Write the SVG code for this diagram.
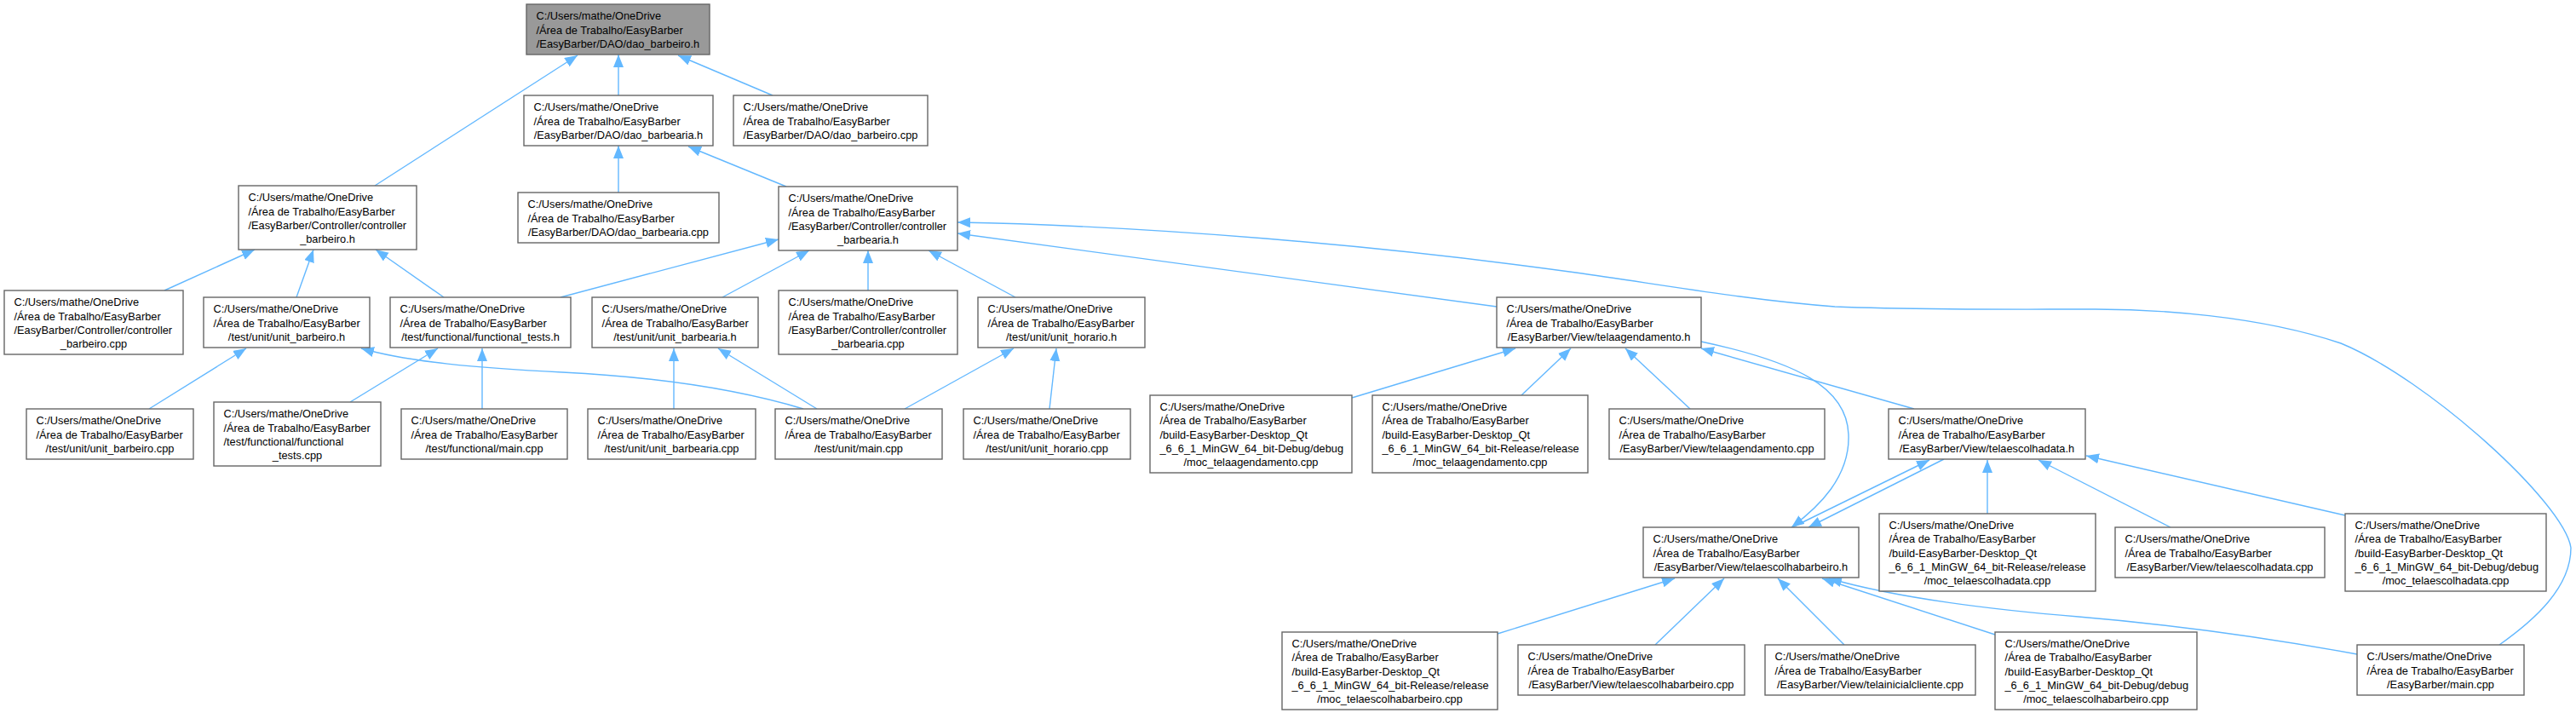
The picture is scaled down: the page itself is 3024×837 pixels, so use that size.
<svg xmlns="http://www.w3.org/2000/svg" width="3024" height="837" viewBox="0 0 3024 837">
<style>
.n rect{fill:#ffffff;stroke:#666666;stroke-width:1.4}
.m rect{fill:#999999;stroke:#666666;stroke-width:1.4}
text{font-family:"Liberation Sans",Arial,sans-serif;font-size:12.8px;fill:#000000}
.c{text-anchor:middle}
.e path{fill:none;stroke:#63b8ff;stroke-width:1.4;marker-end:url(#ah)}
</style>
<defs>
<marker id="ah" markerUnits="userSpaceOnUse" markerWidth="16" markerHeight="13" viewBox="0 0 16 13" refX="15" refY="6" orient="auto">
<path d="M0,0 L15,6 L0,12 z" fill="#63b8ff"/>
</marker>
</defs>
<rect x="0" y="0" width="3024" height="837" fill="#ffffff"/>
<g class="e" id="edges">
<path d="M726,112 L726,64"/>
<path d="M907,112 L796,65"/>
<path d="M440,218 L678,65"/>
<path d="M726,226 L726,171"/>
<path d="M923,219 L808,172"/>
<path d="M193,341 L299,293"/>
<path d="M348,349 L368,293"/>
<path d="M521,349 L441,293"/>
<path d="M658,349 L914,281"/>
<path d="M848,349 L950,294"/>
<path d="M1019,341 L1019,294"/>
<path d="M1192,349 L1090,294"/>
<path d="M1757,360 L1124,274"/>
<path d="M2934,757 C2975,728 3018,690 3018,643 C3010,590 2850,445 2748,403 C2650,370 2530,363 2460,363 C2350,363 2250,364 2154,360 C2050,352 1950,334 1850,320 C1620,288 1350,265 1124,261"/>
<path d="M1587,467 L1779,409"/>
<path d="M1786,464 L1844,409"/>
<path d="M1984,480 L1908,409"/>
<path d="M2247,480 L1997,409"/>
<path d="M1997,401 C2110,425 2168,455 2170,510 C2172,560 2135,595 2103,619"/>
<path d="M2104,619 L2265,540"/>
<path d="M2282,539 L2123,619"/>
<path d="M2333,603 L2333,540"/>
<path d="M2548,619 L2393,540"/>
<path d="M2753,605 L2449,535"/>
<path d="M1758,744 L1966,679"/>
<path d="M1943,757 L2024,679"/>
<path d="M2165,757 L2087,679"/>
<path d="M2342,745 L2139,679"/>
<path d="M2767,768 C2680,752 2560,734 2440,724 C2330,715 2220,700 2147,679"/>
<path d="M175,480 L289,409"/>
<path d="M411,472 L514,409"/>
<path d="M566,480 L566,409"/>
<path d="M943,480 C860,455 760,442 660,437 C560,432 480,425 424,409"/>
<path d="M959,480 L843,409"/>
<path d="M791,480 L791,409"/>
<path d="M1062,480 L1190,409"/>
<path d="M1232,480 L1240,409"/>
</g>
<g class="m" id="n_dao_barbeiro_h"><rect x="618" y="5" width="215" height="59"/><text><tspan x="629.5" y="23.4">C:/Users/mathe/OneDrive</tspan><tspan x="629.5" y="39.6">/Área de Trabalho/EasyBarber</tspan><tspan class="c" x="725.5" y="55.8">/EasyBarber/DAO/dao_barbeiro.h</tspan></text></g>
<g class="n" id="n_dao_barbearia_h"><rect x="615" y="112" width="222" height="59"/><text><tspan x="626.5" y="130.4">C:/Users/mathe/OneDrive</tspan><tspan x="626.5" y="146.6">/Área de Trabalho/EasyBarber</tspan><tspan class="c" x="726" y="162.8">/EasyBarber/DAO/dao_barbearia.h</tspan></text></g>
<g class="n" id="n_dao_barbeiro_cpp"><rect x="861" y="112" width="228" height="59"/><text><tspan x="872.5" y="130.4">C:/Users/mathe/OneDrive</tspan><tspan x="872.5" y="146.6">/Área de Trabalho/EasyBarber</tspan><tspan class="c" x="975" y="162.8">/EasyBarber/DAO/dao_barbeiro.cpp</tspan></text></g>
<g class="n" id="n_controller_barbeiro_h"><rect x="280" y="218" width="209" height="75"/><text><tspan x="291.5" y="236.4">C:/Users/mathe/OneDrive</tspan><tspan x="291.5" y="252.6">/Área de Trabalho/EasyBarber</tspan><tspan x="291.5" y="268.8">/EasyBarber/Controller/controller</tspan><tspan class="c" x="384.5" y="285">_barbeiro.h</tspan></text></g>
<g class="n" id="n_dao_barbearia_cpp"><rect x="608" y="226" width="236" height="59"/><text><tspan x="619.5" y="244.4">C:/Users/mathe/OneDrive</tspan><tspan x="619.5" y="260.6">/Área de Trabalho/EasyBarber</tspan><tspan class="c" x="726" y="276.8">/EasyBarber/DAO/dao_barbearia.cpp</tspan></text></g>
<g class="n" id="n_controller_barbearia_h"><rect x="914" y="219" width="210" height="75"/><text><tspan x="925.5" y="237.4">C:/Users/mathe/OneDrive</tspan><tspan x="925.5" y="253.6">/Área de Trabalho/EasyBarber</tspan><tspan x="925.5" y="269.8">/EasyBarber/Controller/controller</tspan><tspan class="c" x="1019" y="286">_barbearia.h</tspan></text></g>
<g class="n" id="n_controller_barbeiro_cpp"><rect x="5" y="341" width="210" height="75"/><text><tspan x="16.5" y="359.4">C:/Users/mathe/OneDrive</tspan><tspan x="16.5" y="375.6">/Área de Trabalho/EasyBarber</tspan><tspan x="16.5" y="391.8">/EasyBarber/Controller/controller</tspan><tspan class="c" x="110" y="408">_barbeiro.cpp</tspan></text></g>
<g class="n" id="n_unit_barbeiro_h"><rect x="239" y="349" width="195" height="59"/><text><tspan x="250.5" y="367.4">C:/Users/mathe/OneDrive</tspan><tspan x="250.5" y="383.6">/Área de Trabalho/EasyBarber</tspan><tspan class="c" x="336.5" y="399.8">/test/unit/unit_barbeiro.h</tspan></text></g>
<g class="n" id="n_functional_tests_h"><rect x="458" y="349" width="212" height="59"/><text><tspan x="469.5" y="367.4">C:/Users/mathe/OneDrive</tspan><tspan x="469.5" y="383.6">/Área de Trabalho/EasyBarber</tspan><tspan class="c" x="564" y="399.8">/test/functional/functional_tests.h</tspan></text></g>
<g class="n" id="n_unit_barbearia_h"><rect x="695" y="349" width="195" height="59"/><text><tspan x="706.5" y="367.4">C:/Users/mathe/OneDrive</tspan><tspan x="706.5" y="383.6">/Área de Trabalho/EasyBarber</tspan><tspan class="c" x="792.5" y="399.8">/test/unit/unit_barbearia.h</tspan></text></g>
<g class="n" id="n_controller_barbearia_cpp"><rect x="914" y="341" width="210" height="75"/><text><tspan x="925.5" y="359.4">C:/Users/mathe/OneDrive</tspan><tspan x="925.5" y="375.6">/Área de Trabalho/EasyBarber</tspan><tspan x="925.5" y="391.8">/EasyBarber/Controller/controller</tspan><tspan class="c" x="1019" y="408">_barbearia.cpp</tspan></text></g>
<g class="n" id="n_unit_horario_h"><rect x="1148" y="349" width="196" height="59"/><text><tspan x="1159.5" y="367.4">C:/Users/mathe/OneDrive</tspan><tspan x="1159.5" y="383.6">/Área de Trabalho/EasyBarber</tspan><tspan class="c" x="1246" y="399.8">/test/unit/unit_horario.h</tspan></text></g>
<g class="n" id="n_telaagendamento_h"><rect x="1757" y="349" width="240" height="59"/><text><tspan x="1768.5" y="367.4">C:/Users/mathe/OneDrive</tspan><tspan x="1768.5" y="383.6">/Área de Trabalho/EasyBarber</tspan><tspan class="c" x="1877" y="399.8">/EasyBarber/View/telaagendamento.h</tspan></text></g>
<g class="n" id="n_unit_barbeiro_cpp"><rect x="31" y="480" width="196" height="59"/><text><tspan x="42.5" y="498.4">C:/Users/mathe/OneDrive</tspan><tspan x="42.5" y="514.6">/Área de Trabalho/EasyBarber</tspan><tspan class="c" x="129" y="530.8">/test/unit/unit_barbeiro.cpp</tspan></text></g>
<g class="n" id="n_functional_tests_cpp"><rect x="251" y="472" width="196" height="75"/><text><tspan x="262.5" y="490.4">C:/Users/mathe/OneDrive</tspan><tspan x="262.5" y="506.6">/Área de Trabalho/EasyBarber</tspan><tspan x="262.5" y="522.8">/test/functional/functional</tspan><tspan class="c" x="349" y="539">_tests.cpp</tspan></text></g>
<g class="n" id="n_functional_main_cpp"><rect x="471" y="480" width="195" height="59"/><text><tspan x="482.5" y="498.4">C:/Users/mathe/OneDrive</tspan><tspan x="482.5" y="514.6">/Área de Trabalho/EasyBarber</tspan><tspan class="c" x="568.5" y="530.8">/test/functional/main.cpp</tspan></text></g>
<g class="n" id="n_unit_barbearia_cpp"><rect x="690" y="480" width="197" height="59"/><text><tspan x="701.5" y="498.4">C:/Users/mathe/OneDrive</tspan><tspan x="701.5" y="514.6">/Área de Trabalho/EasyBarber</tspan><tspan class="c" x="788.5" y="530.8">/test/unit/unit_barbearia.cpp</tspan></text></g>
<g class="n" id="n_unit_main_cpp"><rect x="910" y="480" width="196" height="59"/><text><tspan x="921.5" y="498.4">C:/Users/mathe/OneDrive</tspan><tspan x="921.5" y="514.6">/Área de Trabalho/EasyBarber</tspan><tspan class="c" x="1008" y="530.8">/test/unit/main.cpp</tspan></text></g>
<g class="n" id="n_unit_horario_cpp"><rect x="1131" y="480" width="196" height="59"/><text><tspan x="1142.5" y="498.4">C:/Users/mathe/OneDrive</tspan><tspan x="1142.5" y="514.6">/Área de Trabalho/EasyBarber</tspan><tspan class="c" x="1229" y="530.8">/test/unit/unit_horario.cpp</tspan></text></g>
<g class="n" id="n_moc_telaagendamento_debug"><rect x="1350" y="464" width="237" height="91"/><text><tspan x="1361.5" y="482.2">C:/Users/mathe/OneDrive</tspan><tspan x="1361.5" y="498.4">/Área de Trabalho/EasyBarber</tspan><tspan x="1361.5" y="514.6">/build-EasyBarber-Desktop_Qt</tspan><tspan x="1361.5" y="530.8">_6_6_1_MinGW_64_bit-Debug/debug</tspan><tspan class="c" x="1468.5" y="547">/moc_telaagendamento.cpp</tspan></text></g>
<g class="n" id="n_moc_telaagendamento_release"><rect x="1611" y="464" width="253" height="91"/><text><tspan x="1622.5" y="482.2">C:/Users/mathe/OneDrive</tspan><tspan x="1622.5" y="498.4">/Área de Trabalho/EasyBarber</tspan><tspan x="1622.5" y="514.6">/build-EasyBarber-Desktop_Qt</tspan><tspan x="1622.5" y="530.8">_6_6_1_MinGW_64_bit-Release/release</tspan><tspan class="c" x="1737.5" y="547">/moc_telaagendamento.cpp</tspan></text></g>
<g class="n" id="n_telaagendamento_cpp"><rect x="1889" y="480" width="253" height="59"/><text><tspan x="1900.5" y="498.4">C:/Users/mathe/OneDrive</tspan><tspan x="1900.5" y="514.6">/Área de Trabalho/EasyBarber</tspan><tspan class="c" x="2015.5" y="530.8">/EasyBarber/View/telaagendamento.cpp</tspan></text></g>
<g class="n" id="n_telaescolhadata_h"><rect x="2217" y="480" width="231" height="59"/><text><tspan x="2228.5" y="498.4">C:/Users/mathe/OneDrive</tspan><tspan x="2228.5" y="514.6">/Área de Trabalho/EasyBarber</tspan><tspan class="c" x="2332.5" y="530.8">/EasyBarber/View/telaescolhadata.h</tspan></text></g>
<g class="n" id="n_telaescolhabarbeiro_h"><rect x="1929" y="619" width="253" height="59"/><text><tspan x="1940.5" y="637.4">C:/Users/mathe/OneDrive</tspan><tspan x="1940.5" y="653.6">/Área de Trabalho/EasyBarber</tspan><tspan class="c" x="2055.5" y="669.8">/EasyBarber/View/telaescolhabarbeiro.h</tspan></text></g>
<g class="n" id="n_moc_telaescolhadata_release"><rect x="2206" y="603" width="254" height="91"/><text><tspan x="2217.5" y="621.2">C:/Users/mathe/OneDrive</tspan><tspan x="2217.5" y="637.4">/Área de Trabalho/EasyBarber</tspan><tspan x="2217.5" y="653.6">/build-EasyBarber-Desktop_Qt</tspan><tspan x="2217.5" y="669.8">_6_6_1_MinGW_64_bit-Release/release</tspan><tspan class="c" x="2333" y="686">/moc_telaescolhadata.cpp</tspan></text></g>
<g class="n" id="n_telaescolhadata_cpp"><rect x="2483" y="619" width="246" height="59"/><text><tspan x="2494.5" y="637.4">C:/Users/mathe/OneDrive</tspan><tspan x="2494.5" y="653.6">/Área de Trabalho/EasyBarber</tspan><tspan class="c" x="2606" y="669.8">/EasyBarber/View/telaescolhadata.cpp</tspan></text></g>
<g class="n" id="n_moc_telaescolhadata_debug"><rect x="2753" y="603" width="236" height="91"/><text><tspan x="2764.5" y="621.2">C:/Users/mathe/OneDrive</tspan><tspan x="2764.5" y="637.4">/Área de Trabalho/EasyBarber</tspan><tspan x="2764.5" y="653.6">/build-EasyBarber-Desktop_Qt</tspan><tspan x="2764.5" y="669.8">_6_6_1_MinGW_64_bit-Debug/debug</tspan><tspan class="c" x="2871" y="686">/moc_telaescolhadata.cpp</tspan></text></g>
<g class="n" id="n_moc_telaescolhabarbeiro_release"><rect x="1505" y="742" width="253" height="91"/><text><tspan x="1516.5" y="760.2">C:/Users/mathe/OneDrive</tspan><tspan x="1516.5" y="776.4">/Área de Trabalho/EasyBarber</tspan><tspan x="1516.5" y="792.6">/build-EasyBarber-Desktop_Qt</tspan><tspan x="1516.5" y="808.8">_6_6_1_MinGW_64_bit-Release/release</tspan><tspan class="c" x="1631.5" y="825">/moc_telaescolhabarbeiro.cpp</tspan></text></g>
<g class="n" id="n_telaescolhabarbeiro_cpp"><rect x="1782" y="757" width="266" height="59"/><text><tspan x="1793.5" y="775.4">C:/Users/mathe/OneDrive</tspan><tspan x="1793.5" y="791.6">/Área de Trabalho/EasyBarber</tspan><tspan class="c" x="1915" y="807.8">/EasyBarber/View/telaescolhabarbeiro.cpp</tspan></text></g>
<g class="n" id="n_telainicialcliente_cpp"><rect x="2072" y="757" width="247" height="59"/><text><tspan x="2083.5" y="775.4">C:/Users/mathe/OneDrive</tspan><tspan x="2083.5" y="791.6">/Área de Trabalho/EasyBarber</tspan><tspan class="c" x="2195.5" y="807.8">/EasyBarber/View/telainicialcliente.cpp</tspan></text></g>
<g class="n" id="n_moc_telaescolhabarbeiro_debug"><rect x="2342" y="742" width="237" height="91"/><text><tspan x="2353.5" y="760.2">C:/Users/mathe/OneDrive</tspan><tspan x="2353.5" y="776.4">/Área de Trabalho/EasyBarber</tspan><tspan x="2353.5" y="792.6">/build-EasyBarber-Desktop_Qt</tspan><tspan x="2353.5" y="808.8">_6_6_1_MinGW_64_bit-Debug/debug</tspan><tspan class="c" x="2460.5" y="825">/moc_telaescolhabarbeiro.cpp</tspan></text></g>
<g class="n" id="n_easybarber_main_cpp"><rect x="2767" y="757" width="196" height="59"/><text><tspan x="2778.5" y="775.4">C:/Users/mathe/OneDrive</tspan><tspan x="2778.5" y="791.6">/Área de Trabalho/EasyBarber</tspan><tspan class="c" x="2865" y="807.8">/EasyBarber/main.cpp</tspan></text></g>
</svg>
